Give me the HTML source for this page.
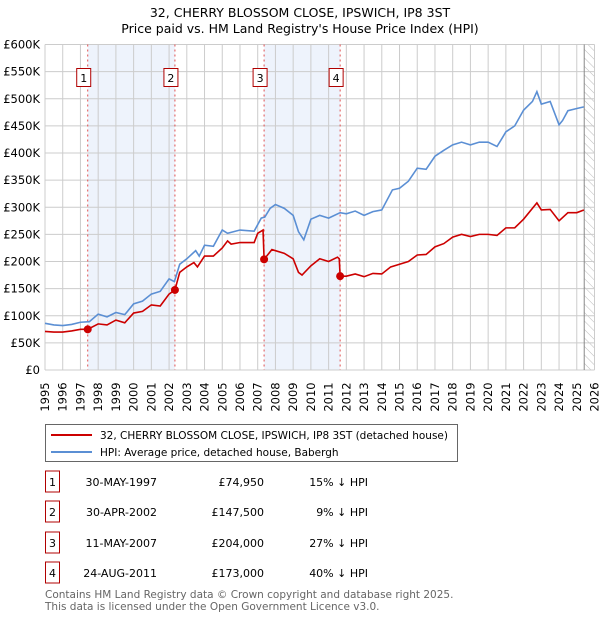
<!DOCTYPE html>
<html><head><meta charset="utf-8"><style>
body{margin:0;background:#fff;font-family:"Liberation Sans","DejaVu Sans",sans-serif}
svg text{font-family:"DejaVu Sans","Liberation Sans",sans-serif}
</style></head><body>
<svg id="c" width="600" height="620" xmlns="http://www.w3.org/2000/svg">
<defs><pattern id="hatch" width="6" height="6" patternUnits="userSpaceOnUse" patternTransform="rotate(-45)"><line x1="0" y1="0" x2="0" y2="6" stroke="#bbb" stroke-width="1"/></pattern></defs>
<text x="300" y="17" text-anchor="middle" font-size="12.5">32, CHERRY BLOSSOM CLOSE, IPSWICH, IP8 3ST</text>
<text x="300" y="33" text-anchor="middle" font-size="12.5">Price paid vs. HM Land Registry's House Price Index (HPI)</text>
<g id="plot"></g>
<g>
<rect x="45.5" y="424.5" width="412" height="37" fill="#fff" stroke="#666"/>
<line x1="51" y1="435" x2="92" y2="435" stroke="#cc0000" stroke-width="2"/>
<text x="100" y="439" font-size="10.5">32, CHERRY BLOSSOM CLOSE, IPSWICH, IP8 3ST (detached house)</text>
<line x1="51" y1="452" x2="92" y2="452" stroke="#5b8fd4" stroke-width="2"/>
<text x="100" y="456" font-size="10.5">HPI: Average price, detached house, Babergh</text>
</g>
<g id="table" font-size="11"></g>
<text x="45" y="598" font-size="10.5" fill="#666">Contains HM Land Registry data © Crown copyright and database right 2025.</text>
<text x="45" y="610" font-size="10.5" fill="#666">This data is licensed under the Open Government Licence v3.0.</text>
</svg>
<script>
const hpiYears=[1995,1995.5,1996,1996.5,1997,1997.5,1998,1998.5,1999,1999.5,2000,2000.5,2001,2001.5,2002,2002.3,2002.6,2003,2003.5,2003.7,2004,2004.5,2005,2005.3,2006,2006.8,2007.2,2007.4,2007.7,2008,2008.5,2009,2009.3,2009.6,2010,2010.5,2011,2011.65,2012,2012.5,2013,2013.5,2014,2014.6,2015,2015.5,2016,2016.5,2017,2017.5,2018,2018.5,2019,2019.5,2020,2020.5,2020.8,2021,2021.5,2022,2022.5,2022.75,2023,2023.5,2024,2024.2,2024.5,2025,2025.4];
const hpiValues=[86,83,82,84,88,89,103,98,106,102,122,127,140,145,168,163,195,205,220,210,230,228,258,252,258,256,280,282,298,305,298,285,255,240,278,285,280,290,288,293,285,292,295,332,335,348,372,370,394,405,415,420,415,420,420,412,428,439,450,479,495,513,490,495,452,460,478,482,485];
const ppYears=[1995,1995.5,1996,1996.5,1997,1997.41,1998,1998.5,1999,1999.5,2000,2000.5,2001,2001.5,2002,2002.33,2002.6,2003,2003.4,2003.6,2004,2004.5,2005,2005.3,2005.5,2006,2006.8,2007,2007.3,2007.36,2007.8,2008.5,2009,2009.3,2009.5,2010,2010.5,2011,2011.5,2011.6,2011.65,2012,2012.5,2013,2013.5,2014,2014.5,2015,2015.5,2016,2016.5,2017,2017.5,2018,2018.5,2019,2019.5,2020,2020.5,2021,2021.5,2022,2022.75,2023,2023.5,2024,2024.5,2025,2025.4];
const ppValues=[71,70,70,72,75,74.95,85,83,92,87,105,108,120,118,140,147.5,180,190,198,190,210,210,225,238,232,235,235,252,258,204,222,215,205,180,175,192,205,200,208,205,173,173,177,172,178,177,190,195,200,212,213,227,233,245,250,246,250,250,248,262,262,278,308,295,296,275,290,290,295];
const saleYears=[1997.41,2002.33,2007.36,2011.65];
const saleValues=[74.95,147.5,204,173];
const saleLabels=["1","2","3","4"];
const saleDates=["30-MAY-1997","30-APR-2002","11-MAY-2007","24-AUG-2011"];
const salePrices=["£74,950","£147,500","£204,000","£173,000"];
const saleDiffs=["15% ↓ HPI","9% ↓ HPI","27% ↓ HPI","40% ↓ HPI"];
const yTicks=[0,50,100,150,200,250,300,350,400,450,500,550,600];
const yTickLabels=["£0","£50K","£100K","£150K","£200K","£250K","£300K","£350K","£400K","£450K","£500K","£550K","£600K"];
const xTicks=[];for(let y=1995;y<=2026;y++)xTicks.push(y);

const X0=45,X1=594.5,Y0=370,Y1=44.5;
const xs=t=>X0+(t-1995)/(2026-1995)*(X1-X0);
const ys=v=>Y0-v/600*(Y0-Y1);
const NS="http://www.w3.org/2000/svg";
const plot=document.getElementById('plot');
function mk(tag,attrs,parent){const e=document.createElementNS(NS,tag);for(const k in attrs)e.setAttribute(k,attrs[k]);(parent||plot).appendChild(e);return e;}

for(let i=0;i<saleYears.length;i+=2){
  const r=mk('rect',{x:xs(saleYears[i]),y:Y1,width:xs(saleYears[i+1])-xs(saleYears[i]),height:Y0-Y1,fill:'#eef3fc'});
  
  
}
const h=mk('rect',{x:xs(2025.42),y:Y1,width:X1-xs(2025.42),height:Y0-Y1,fill:'url(#hatch)'});


xTicks.forEach(t=>{
  const l=mk('line',{x1:xs(t),x2:xs(t),y1:Y1,y2:Y0,stroke:'#ccc','stroke-width':1});
  
  
  const tx=mk('text',{transform:`translate(${xs(t)+4},${Y0+27}) rotate(-90)`,'font-size':11.5,'text-anchor':'middle'});
  tx.textContent=t;
  
  
});
yTicks.forEach((v,i)=>{
  const l=mk('line',{x1:X0,x2:X1,y1:ys(v),y2:ys(v),stroke:'#ccc','stroke-width':1});
  
  
  const tx=mk('text',{x:40,y:ys(v)+4,'font-size':11.5,'text-anchor':'end'});
  tx.textContent=yTickLabels[i];
  
  
});
const ed=mk('line',{x1:xs(2025.42),x2:xs(2025.42),y1:Y1,y2:Y0,stroke:'#888','stroke-width':1});


saleYears.forEach((t,i)=>{
  const l=mk('line',{x1:xs(t),x2:xs(t),y1:Y1,y2:Y0,stroke:'#e05050','stroke-width':1,'stroke-dasharray':'2,3'});
  
  
  const b=mk('rect',{x:xs(t)-11,y:68.5,width:14,height:18,fill:'#fff',stroke:'#b00000'});
  
  
  const tx=mk('text',{x:xs(t)-4,y:82,'font-size':11,'text-anchor':'middle'});
  tx.textContent=saleLabels[i];
  
  
});
const hp=mk('polyline',{points:hpiYears.map((t,i)=>xs(t)+','+ys(hpiValues[i])).join(' '),fill:'none',stroke:'#5b8fd4','stroke-width':1.6});


const pp=mk('polyline',{points:ppYears.map((t,i)=>xs(t)+','+ys(ppValues[i])).join(' '),fill:'none',stroke:'#cc0000','stroke-width':1.6});


saleYears.forEach((t,i)=>{
  const c=mk('circle',{cx:xs(t),cy:ys(saleValues[i]),r:4,fill:'#cc0000'});
  
  
});
const tb=document.getElementById('table');
const rowY=[482,512,543,573];
saleLabels.forEach((s,i)=>{
  const y=rowY[i];
  const b=mk('rect',{x:45.5,y:y-11,width:14,height:21,fill:'#fff',stroke:'#b00000'},tb);
  
  
  const cells=[[52.5,'middle',s,'table-number'],[157,'end',saleDates[i],'table-date'],[264,'end',salePrices[i],'table-price'],[368,'end',saleDiffs[i],'table-hpi-diff']];
  cells.forEach(c=>{
    const tx=mk('text',{x:c[0],y:y+4,'text-anchor':c[1]},tb);
    tx.textContent=c[2];
    
    
  });
});
</script>
</body></html>
